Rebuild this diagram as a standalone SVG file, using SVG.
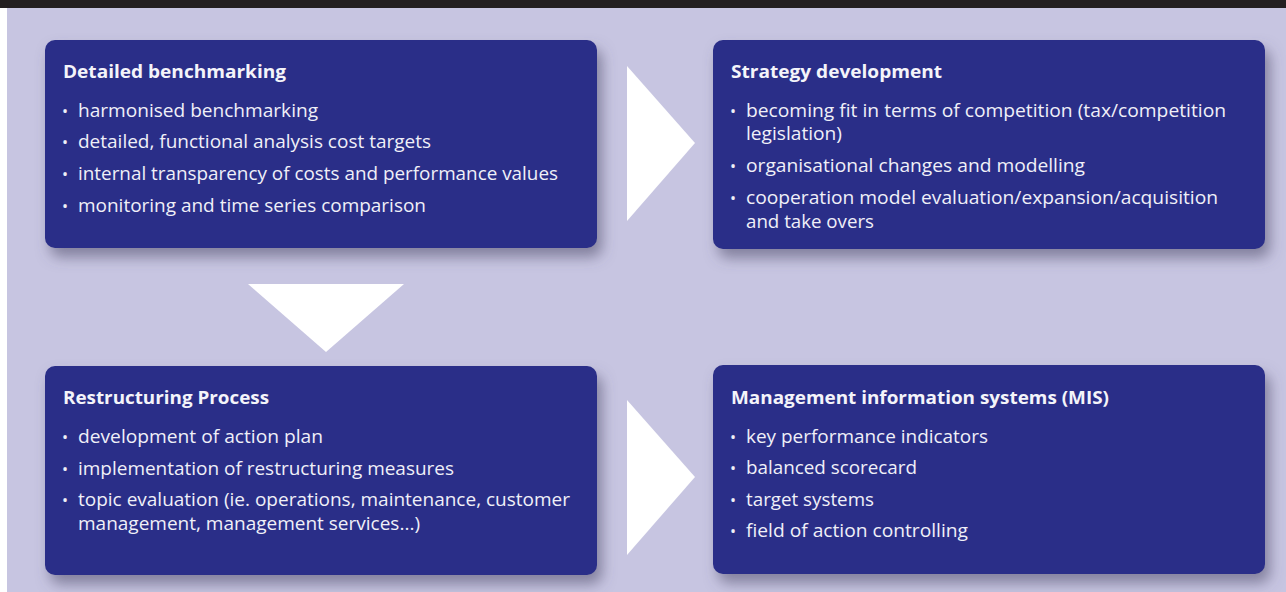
<svg xmlns="http://www.w3.org/2000/svg" width="1286" height="592" viewBox="0 0 1286 592">
  <defs>
    <filter id="sh" x="-10%" y="-10%" width="125%" height="135%">
      <feDropShadow dx="5" dy="9" stdDeviation="7" flood-color="#55536f" flood-opacity="0.6"/>
    </filter>
  </defs>
  <style>
    .box { fill: #2a2e88; filter: url(#sh); }
    .arrow { fill: #ffffff; }
    .title { font-family: "Open Sans", "Liberation Sans", sans-serif; font-weight: bold; font-size: 18px; fill: #f4f4fa; }
    .item { font-family: "Open Sans", "Liberation Sans", sans-serif; font-size: 18.5px; fill: #f0f0f8; }
    .bul { font-family: "Open Sans", "Liberation Sans", sans-serif; font-size: 16px; fill: #f0f0f8; }
  </style>
  <rect x="0" y="0" width="1286" height="592" fill="#ffffff"/>
  <rect x="7" y="8" width="1279" height="584" fill="#c7c5e1"/>
  <rect x="0" y="0" width="1286" height="8" fill="#231f20"/>

  <g id="connectors">
    <polygon class="arrow" points="627,66 695,143 627,221"/>
    <polygon class="arrow" points="248,284 404,284 326,352"/>
    <polygon class="arrow" points="627,400 695,477 627,555"/>
  </g>

  <g id="node-benchmarking">
    <rect class="box" x="45" y="40" width="552" height="208" rx="10"/>
    <text class="title" x="63" y="78" textLength="223" lengthAdjust="spacingAndGlyphs">Detailed benchmarking</text>
    <text class="bul" x="62" y="117">•</text>
    <text class="item" x="78" y="117" textLength="240" lengthAdjust="spacingAndGlyphs">harmonised benchmarking</text>
    <text class="bul" x="62" y="148">•</text>
    <text class="item" x="78" y="148" textLength="353" lengthAdjust="spacingAndGlyphs">detailed, functional analysis cost targets</text>
    <text class="bul" x="62" y="180">•</text>
    <text class="item" x="78" y="180" textLength="480" lengthAdjust="spacingAndGlyphs">internal transparency of costs and performance values</text>
    <text class="bul" x="62" y="212">•</text>
    <text class="item" x="78" y="212" textLength="348" lengthAdjust="spacingAndGlyphs">monitoring and time series comparison</text>
  </g>

  <g id="node-strategy">
    <rect class="box" x="713" y="40" width="552" height="209" rx="10"/>
    <text class="title" x="731" y="78" textLength="211" lengthAdjust="spacingAndGlyphs">Strategy development</text>
    <text class="bul" x="730" y="117">•</text>
    <text class="item" x="746" y="117" textLength="480" lengthAdjust="spacingAndGlyphs">becoming fit in terms of competition (tax/competition</text>
    <text class="item" x="746" y="140" textLength="96" lengthAdjust="spacingAndGlyphs">legislation)</text>
    <text class="bul" x="730" y="172">•</text>
    <text class="item" x="746" y="172" textLength="339" lengthAdjust="spacingAndGlyphs">organisational changes and modelling</text>
    <text class="bul" x="730" y="204">•</text>
    <text class="item" x="746" y="204" textLength="472" lengthAdjust="spacingAndGlyphs">cooperation model evaluation/expansion/acquisition</text>
    <text class="item" x="746" y="228" textLength="128" lengthAdjust="spacingAndGlyphs">and take overs</text>
  </g>

  <g id="node-restructuring">
    <rect class="box" x="45" y="366" width="552" height="209" rx="10"/>
    <text class="title" x="63" y="404" textLength="206" lengthAdjust="spacingAndGlyphs">Restructuring Process</text>
    <text class="bul" x="62" y="443">•</text>
    <text class="item" x="78" y="443" textLength="245" lengthAdjust="spacingAndGlyphs">development of action plan</text>
    <text class="bul" x="62" y="475">•</text>
    <text class="item" x="78" y="475" textLength="376" lengthAdjust="spacingAndGlyphs">implementation of restructuring measures</text>
    <text class="bul" x="62" y="506">•</text>
    <text class="item" x="78" y="506" textLength="492" lengthAdjust="spacingAndGlyphs">topic evaluation (ie. operations, maintenance, customer</text>
    <text class="item" x="78" y="530" textLength="342" lengthAdjust="spacingAndGlyphs">management, management services...)</text>
  </g>

  <g id="node-mis">
    <rect class="box" x="713" y="365" width="552" height="209" rx="10"/>
    <text class="title" x="731" y="404" textLength="378" lengthAdjust="spacingAndGlyphs">Management information systems (MIS)</text>
    <text class="bul" x="730" y="443">•</text>
    <text class="item" x="746" y="443" textLength="242" lengthAdjust="spacingAndGlyphs">key performance indicators</text>
    <text class="bul" x="730" y="474">•</text>
    <text class="item" x="746" y="474" textLength="171" lengthAdjust="spacingAndGlyphs">balanced scorecard</text>
    <text class="bul" x="730" y="506">•</text>
    <text class="item" x="746" y="506" textLength="128" lengthAdjust="spacingAndGlyphs">target systems</text>
    <text class="bul" x="730" y="537">•</text>
    <text class="item" x="746" y="537" textLength="222" lengthAdjust="spacingAndGlyphs">field of action controlling</text>
  </g>
</svg>
